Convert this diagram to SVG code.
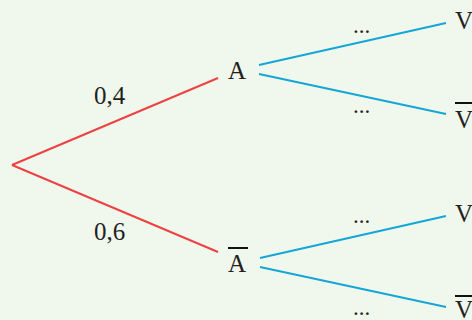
<svg xmlns="http://www.w3.org/2000/svg" width="472" height="320" viewBox="0 0 472 320">
<style>
.t{font-family:"Liberation Serif","Times New Roman",serif;font-size:25px;fill:#231f20}
.d{font-family:"Liberation Serif","Times New Roman",serif;font-size:23px;fill:#231f20}
.r{stroke:#ee4143;stroke-width:2;fill:none}
.b{stroke:#14a6d6;stroke-width:2;fill:none}
.bar{stroke:#111;stroke-width:2}
</style>
<rect width="472" height="320" fill="#f0f7ed"/>
<g id="connectors">
<line class="r" x1="12" y1="165" x2="218" y2="78"/>
<line class="r" x1="12" y1="165" x2="218" y2="252"/>
<line class="b" x1="259" y1="65" x2="446" y2="23"/>
<line class="b" x1="259" y1="74" x2="446" y2="114"/>
<line class="b" x1="260" y1="258" x2="446" y2="216"/>
<line class="b" x1="260" y1="267" x2="446" y2="307"/>
</g>
<g id="label-04"><text class="t" x="94" y="104">0,4</text></g>
<g id="label-06"><text class="t" x="94" y="240">0,6</text></g>
<g id="node-A"><text class="t" x="228" y="79">A</text></g>
<g id="node-Abar"><line class="bar" x1="228" y1="248" x2="248" y2="248"/><text class="t" x="228" y="272">A</text></g>
<g id="node-V1"><text class="t" x="455" y="29">V</text><text class="d" x="353" y="33">...</text></g>
<g id="node-Vbar1"><line class="bar" x1="455" y1="103" x2="472" y2="103"/><text class="t" x="455" y="128">V</text><text class="d" x="353" y="113">...</text></g>
<g id="node-V2"><text class="t" x="455" y="222">V</text><text class="d" x="353" y="223">...</text></g>
<g id="node-Vbar2"><line class="bar" x1="455" y1="296" x2="472" y2="296"/><text class="t" x="455" y="318">V</text><text class="d" x="353" y="315">...</text></g>
</svg>
